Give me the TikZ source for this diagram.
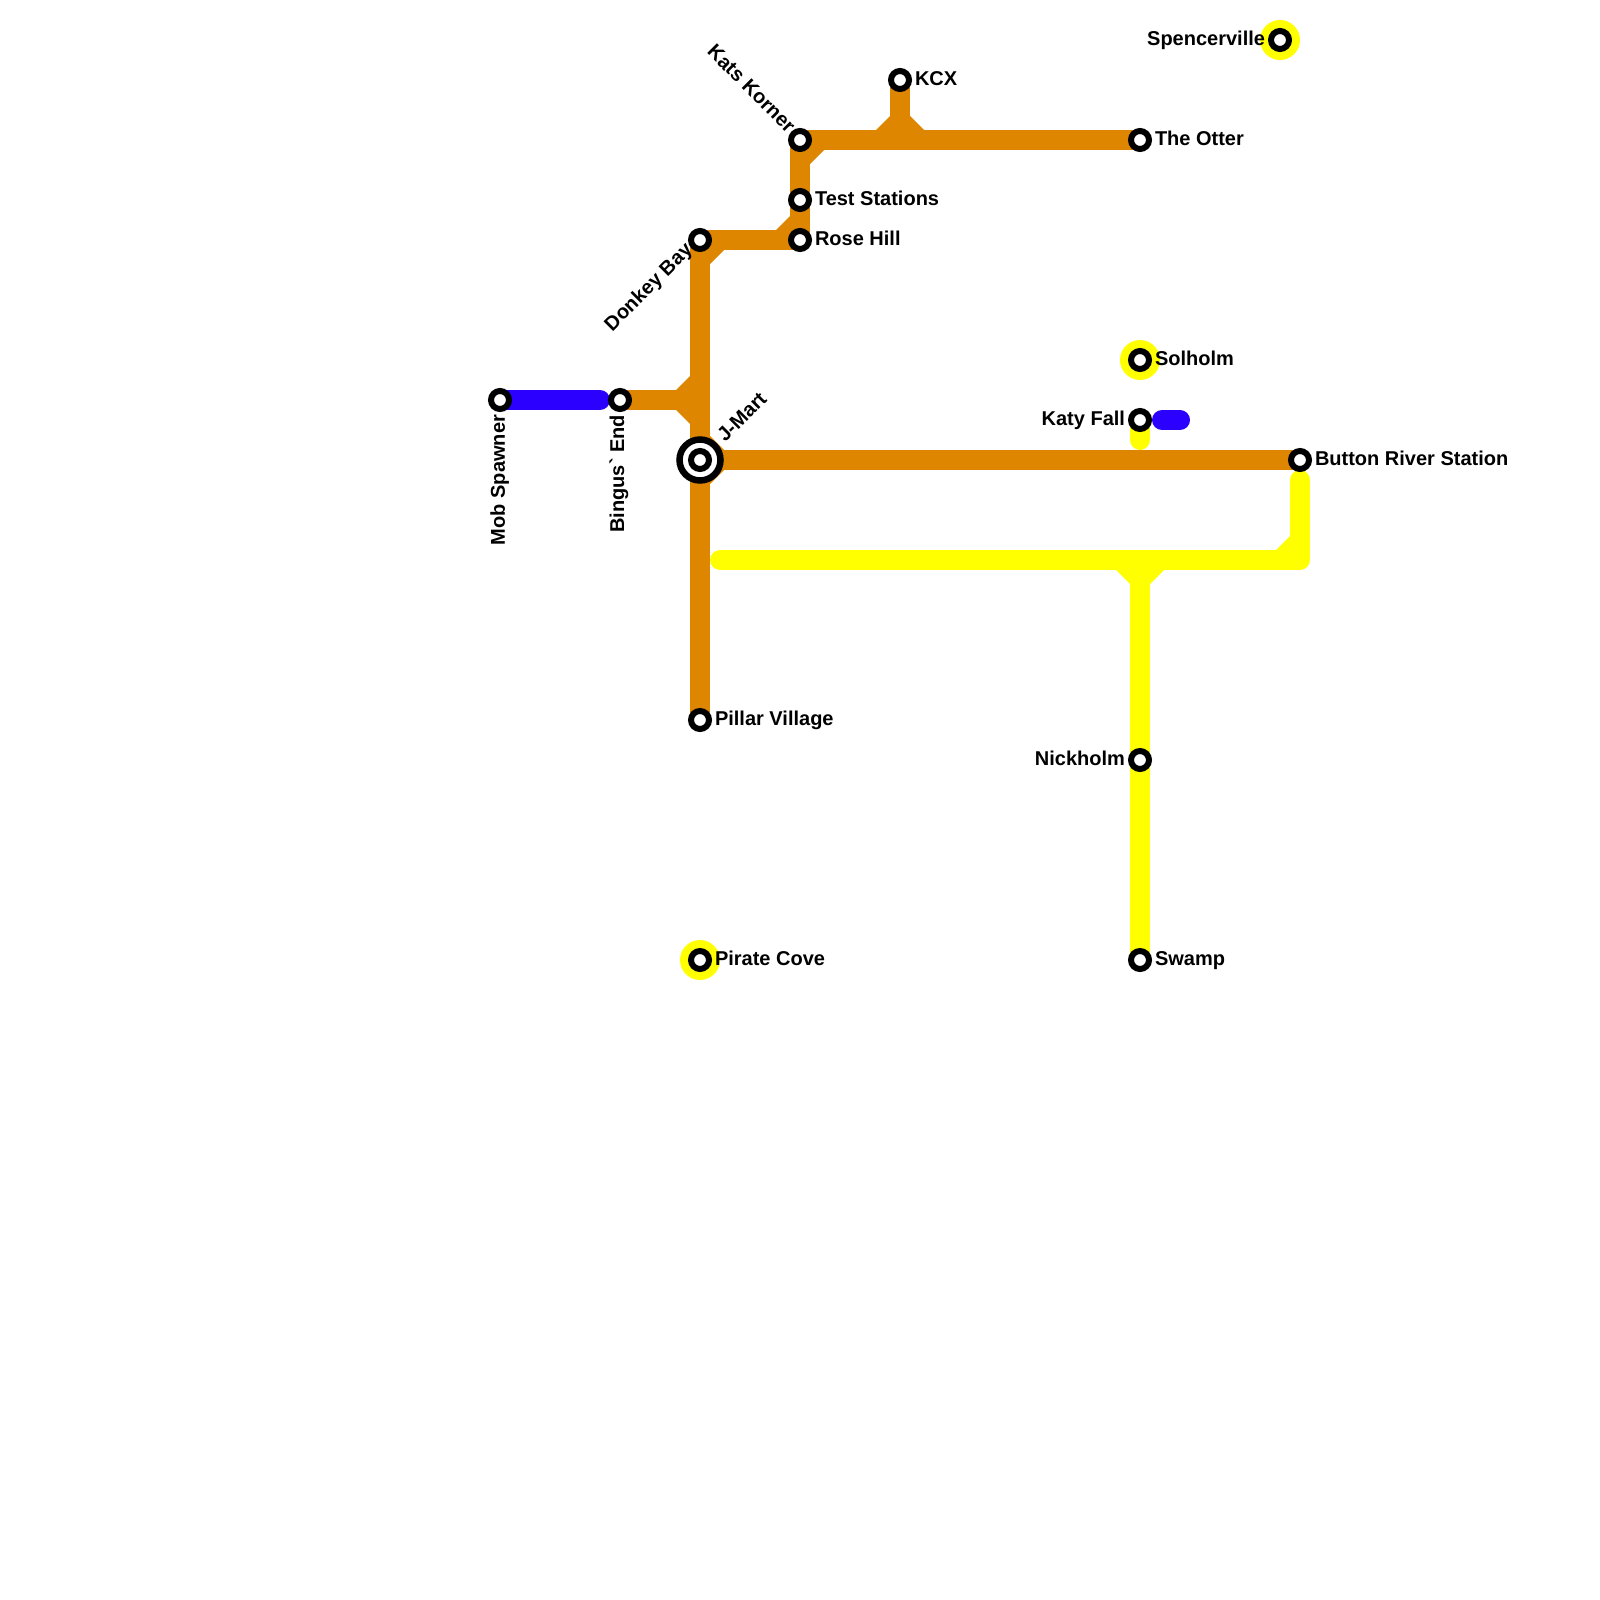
\documentclass[tikz,border=0pt]{standalone}
\usepackage{fontspec}
\newfontfamily\labfont{Liberation Sans}
\usetikzlibrary{backgrounds}
\definecolor{lineorange}{HTML}{DF8600}
\definecolor{lineyellow}{HTML}{FFFF00}
\definecolor{lineblue}{HTML}{2B00FF}
\tikzset{
  x=1pt,y=-1pt,
  stn/.style={circle,draw=black,fill=white,line width=6pt,minimum size=18pt,inner sep=0pt,outer sep=0pt},
  hub/.style={circle,draw=black,fill=white,line width=6.5pt,minimum size=41pt,inner sep=0pt,outer sep=0pt},
  halo/.style={circle,fill=lineyellow,minimum size=40pt,inner sep=0pt,outer sep=0pt},
  lab/.style={font=\labfont\fontsize{20}{20}\selectfont\bfseries,inner sep=0pt,outer sep=0pt,text height=10.7pt,text depth=0pt,black},
  ol/.style={line width=20pt,draw=lineorange,line cap=butt,line join=round},
  yl/.style={line width=20pt,draw=lineyellow,line cap=round,line join=round},
  bl/.style={line width=20pt,draw=lineblue,line cap=round,line join=round},
  of/.style={fill=lineorange},
  yf/.style={fill=lineyellow},
}
\begin{document}
\begin{tikzpicture}
\useasboundingbox (0,0) rectangle (1600,1600);
% stations
\node[hub] (jmo) at (700,460) {};
\node[stn] (jm) at (700,460) {};
\node[stn] (mob) at (500,400) {};
\node[stn] (bin) at (620,400) {};
\node[stn] (don) at (700,240) {};
\node[stn] (rose) at (800,240) {};
\node[stn] (test) at (800,200) {};
\node[stn] (kats) at (800,140) {};
\node[stn] (kcx) at (900,80) {};
\node[stn] (ott) at (1140,140) {};
\node[stn] (btn) at (1300,460) {};
\node[stn] (katy) at (1140,420) {};
\node[stn] (sol) at (1140,360) {};
\node[stn] (nick) at (1140,760) {};
\node[stn] (swamp) at (1140,960) {};
\node[stn] (pir) at (700,960) {};
\node[stn] (pil) at (700,720) {};
\node[stn] (spe) at (1280,40) {};
\coordinate (bluea) at (1162,420);
\coordinate (blueb) at (1180,420);
\coordinate (bluec) at (600,400);
\coordinate (yk) at (1140,440);
\coordinate (ys) at (720,560);
\coordinate (yc) at (1300,560);
\coordinate (ye) at (1300,480);
\coordinate (yt) at (1140,560);
\coordinate (jn) at (700,400);
\coordinate (kj) at (900,140);
\begin{scope}[on background layer]
  \node[halo] at (sol) {};
  \node[halo] at (pir) {};
  \node[halo] at (spe) {};
  % orange
  \draw[ol] (bin.center) -- (jn);
  \draw[ol] (don.center) -- (pil.center);
  \draw[ol] (don.center) -- (rose.center);
  \draw[ol] (rose.center) -- (kats.center);
  \draw[ol] (kats.center) -- (ott.center);
  \draw[ol] (kcx.center) -- (kj);
  \draw[ol] (jm.center) -- (btn.center);
  \fill[of] (690,376) -- (676,390) -- (690,390) -- cycle;
  \fill[of] (690,424) -- (676,410) -- (690,410) -- cycle;
  \fill[of] (710,264) -- (724,250) -- (710,250) -- cycle;
  \fill[of] (790,216) -- (776,230) -- (790,230) -- cycle;
  \fill[of] (810,164) -- (824,150) -- (810,150) -- cycle;
  \fill[of] (890,116) -- (876,130) -- (890,130) -- cycle;
  \fill[of] (910,116) -- (924,130) -- (910,130) -- cycle;
  \fill[of] (710,484) -- (724,470) -- (710,470) -- cycle;
  \fill[of] (710,436) -- (724,450) -- (710,450) -- cycle;
  % blue
  \draw[bl] (mob.center) -- (bluec);
  \draw[bl] (bluea) -- (blueb);
  % yellow
  \draw[yl] (katy.center) -- (yk);
  \draw[yl] (ys) -- (yc) -- (ye);
  \draw[yl,line cap=butt] (yt) -- (swamp.center);
  \fill[yf] (1290,536) -- (1276,550) -- (1290,550) -- cycle;
  \fill[yf] (1130,584) -- (1116,570) -- (1130,570) -- cycle;
  \fill[yf] (1150,584) -- (1164,570) -- (1150,570) -- cycle;
\end{scope}
% labels
\node[lab,anchor=east,rotate=90] at ([shift={(-0.6pt,-15pt)}]mob.center) {Mob Spawner};
\node[lab,anchor=east,rotate=90] at ([shift={(-1.2pt,-15pt)}]bin.center) {Bingus` End};
\node[lab,anchor=west,rotate=45] at ([shift={(21.5pt,20.8pt)}]jm.center) {J-Mart};
\node[lab,anchor=east,rotate=45] at ([shift={(-10.5pt,-7.3pt)}]don.center) {Donkey Bay};
\node[lab,anchor=east,rotate=-45] at ([shift={(-9pt,10pt)}]kats.center) {Kats Korner};
\node[lab,anchor=west] at ([xshift=15pt]rose.center) {Rose Hill};
\node[lab,anchor=west] at ([xshift=15pt]test.center) {Test Stations};
\node[lab,anchor=west] at ([xshift=15pt]kcx.center) {KCX};
\node[lab,anchor=west] at ([xshift=15pt]ott.center) {The Otter};
\node[lab,anchor=west] at ([xshift=15pt]btn.center) {Button River Station};
\node[lab,anchor=west] at ([xshift=15pt]sol.center) {Solholm};
\node[lab,anchor=east] at ([xshift=-15pt]katy.center) {Katy Fall};
\node[lab,anchor=east] at ([xshift=-15pt]nick.center) {Nickholm};
\node[lab,anchor=west] at ([xshift=15pt]swamp.center) {Swamp};
\node[lab,anchor=west] at ([xshift=15pt]pir.center) {Pirate Cove};
\node[lab,anchor=west] at ([xshift=15pt]pil.center) {Pillar Village};
\node[lab,anchor=east] at ([xshift=-15pt]spe.center) {Spencerville};
\end{tikzpicture}
\end{document}
